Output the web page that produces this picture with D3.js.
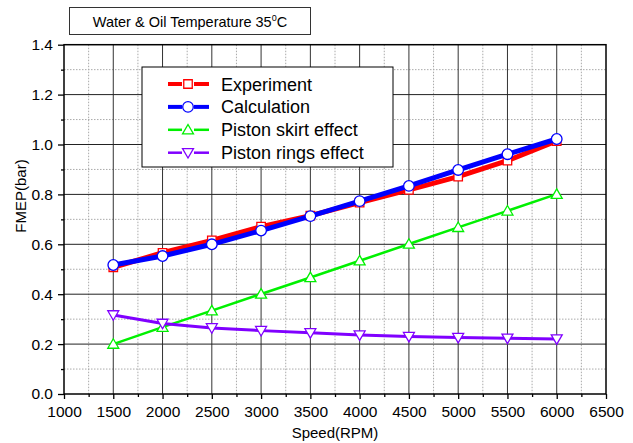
<!DOCTYPE html>
<html>
<head>
<meta charset="utf-8">
<script src="https://cdn.jsdelivr.net/npm/d3@7"></script>
<style>
  body { margin: 0; background: #fff; }
  text { font-family: "Liberation Sans", Arial, sans-serif; fill: #000; }
</style>
</head>
<body>
<div id="chart"></div>
<script>
const width = 633;
const height = 443;

// data
const speeds = [1500, 2000, 2500, 3000, 3500, 4000, 4500, 5000, 5500, 6000];
const experiment = [0.508, 0.566, 0.616, 0.671, 0.715, 0.767, 0.818, 0.871, 0.935, 1.014];
const calculation = [0.517, 0.553, 0.600, 0.655, 0.713, 0.773, 0.834, 0.898, 0.961, 1.022];
const skirtEffect = [0.200, 0.268, 0.334, 0.401, 0.467, 0.534, 0.601, 0.668, 0.734, 0.801];
const ringsEffect = [0.317, 0.283, 0.265, 0.254, 0.245, 0.236, 0.230, 0.226, 0.223, 0.220];
const seriesNames = ["Experiment", "Calculation", "Piston skirt effect", "Piston rings effect"];
const xTicks = [1000, 1500, 2000, 2500, 3000, 3500, 4000, 4500, 5000, 5500, 6000, 6500];
const yTicks = [0.0, 0.2, 0.4, 0.6, 0.8, 1.0, 1.2, 1.4];

const margin = { left: 64, right: 27, top: 44.7, bottom: 49 };

const svg = d3.select("#chart").append("svg")
  .attr("width", width)
  .attr("height", height);

const x = d3.scaleLinear().domain([1000, 6500]).range([margin.left, width - margin.right]);
const y = d3.scaleLinear().domain([0, 1.4]).range([height - margin.bottom, margin.top]);

const plotL = x(1000), plotR = x(6500), plotT = y(1.4), plotB = y(0);

// minor grid (dotted)
const xMinor = d3.range(1250, 6500, 500);
const yMinor = d3.range(0.1, 1.4, 0.2);
svg.append("g").selectAll("line").data(xMinor).enter().append("line")
  .attr("x1", d => x(d)).attr("x2", d => x(d))
  .attr("y1", plotT).attr("y2", plotB)
  .attr("stroke", "#aaa").attr("stroke-dasharray", "1.5,1.5");
svg.append("g").selectAll("line").data(yMinor).enter().append("line")
  .attr("x1", plotL).attr("x2", plotR)
  .attr("y1", d => y(d)).attr("y2", d => y(d))
  .attr("stroke", "#aaa").attr("stroke-dasharray", "1.5,1.5");

// major grid
svg.append("g").selectAll("line").data(xTicks.slice(1, -1)).enter().append("line")
  .attr("x1", d => x(d)).attr("x2", d => x(d))
  .attr("y1", plotT).attr("y2", plotB)
  .attr("stroke", "#333");
svg.append("g").selectAll("line").data(yTicks.slice(1, -1)).enter().append("line")
  .attr("x1", plotL).attr("x2", plotR)
  .attr("y1", d => y(d)).attr("y2", d => y(d))
  .attr("stroke", "#222");

// axes
const xAxis = svg.append("g")
  .attr("transform", "translate(0," + plotB + ")")
  .call(d3.axisBottom(x).tickValues(xTicks).tickSize(5).tickPadding(7).tickFormat(d3.format("d")));
const xAxisMinor = svg.append("g")
  .attr("transform", "translate(0," + plotB + ")")
  .call(d3.axisBottom(x).tickValues(xMinor).tickSize(3).tickFormat(""));
const yAxis = svg.append("g")
  .attr("transform", "translate(" + plotL + ",0)")
  .call(d3.axisLeft(y).tickValues(yTicks).tickSize(6).tickPadding(5).tickFormat(d3.format(".1f")));
const yAxisMinor = svg.append("g")
  .attr("transform", "translate(" + plotL + ",0)")
  .call(d3.axisLeft(y).tickValues(yMinor).tickSize(3).tickFormat(""));

[xAxis, xAxisMinor, yAxis, yAxisMinor].forEach(g => {
  g.select(".domain").remove();
  g.selectAll(".tick line").attr("stroke", "#000").attr("stroke-width", 1.3);
  g.selectAll("text").style("font-size", "15.5px").style("font-family", "Liberation Sans, Arial, sans-serif");
});

// frame
svg.append("rect")
  .attr("x", plotL).attr("y", plotT)
  .attr("width", plotR - plotL).attr("height", plotB - plotT)
  .attr("fill", "none").attr("stroke", "#000").attr("stroke-width", 1.5);

// axis titles
svg.append("text")
  .attr("x", (plotL + plotR) / 2).attr("y", 438)
  .attr("text-anchor", "middle").style("font-size", "15px")
  .text("Speed(RPM)");
svg.append("text")
  .attr("transform", "translate(26,196) rotate(-90)")
  .attr("text-anchor", "middle").style("font-size", "15px")
  .text("FMEP(bar)");

// title box
svg.append("rect")
  .attr("x", 69.5).attr("y", 7.5).attr("width", 241).attr("height", 27)
  .attr("fill", "#fff").attr("stroke", "#333");
const t = svg.append("text")
  .attr("x", 190).attr("y", 27)
  .attr("text-anchor", "middle").style("font-size", "14.5px");
t.append("tspan").text("Water & Oil Temperature 35");
t.append("tspan").attr("dy", -6).style("font-size", "9px").text("0");
t.append("tspan").attr("dy", 6).text("C");

// series
const series = [
  { name: seriesNames[0], values: experiment, color: "#ff0000", width: 5, shape: "square" },
  { name: seriesNames[1], values: calculation, color: "#0000ff", width: 5, shape: "circle" },
  { name: seriesNames[2], values: skirtEffect, color: "#00f000", width: 2.5, shape: "up" },
  { name: seriesNames[3], values: ringsEffect, color: "#8000ff", width: 3, shape: "down" }
];

const symbolFor = {
  square: d3.symbol().type(d3.symbolSquare).size(72),
  circle: d3.symbol().type(d3.symbolCircle).size(88),
  up: d3.symbol().type(d3.symbolTriangle).size(52),
  down: d3.symbol().type(d3.symbolTriangle).size(52)
};
function markerTransform(shape, cx, cy) {
  if (shape === "up") return "translate(" + cx + "," + (cy + 1) + ")";
  if (shape === "down") return "translate(" + cx + "," + (cy - 1) + ") rotate(180)";
  return "translate(" + cx + "," + cy + ")";
}

const line = d3.line().x((d, i) => x(speeds[i])).y(d => y(d));

series.forEach(s => {
  svg.append("path")
    .datum(s.values)
    .attr("d", line)
    .attr("fill", "none")
    .attr("stroke", s.color)
    .attr("stroke-width", s.width);
  svg.append("g").selectAll("path").data(s.values).enter().append("path")
    .attr("d", symbolFor[s.shape])
    .attr("transform", (d, i) => markerTransform(s.shape, x(speeds[i]), y(d)))
    .attr("fill", "#fff")
    .attr("stroke", s.color)
    .attr("stroke-width", 1.3);
});

// legend
const legend = svg.append("g");
legend.append("rect")
  .attr("x", 142).attr("y", 67).attr("width", 251).attr("height", 100)
  .attr("fill", "#fff").attr("stroke", "#000").attr("stroke-width", 1);
series.forEach((s, i) => {
  const cy = 84 + i * 22.9;
  const lw = i < 2 ? 4 : 2.5;
  legend.append("line").attr("x1", 168).attr("x2", 182).attr("y1", cy).attr("y2", cy)
    .attr("stroke", s.color).attr("stroke-width", lw);
  legend.append("line").attr("x1", 194).attr("x2", 209).attr("y1", cy).attr("y2", cy)
    .attr("stroke", s.color).attr("stroke-width", lw);
  legend.append("path")
    .attr("d", symbolFor[s.shape])
    .attr("transform", markerTransform(s.shape, 188, cy))
    .attr("fill", "#fff").attr("stroke", s.color).attr("stroke-width", 1.3);
  legend.append("text")
    .attr("x", 221).attr("y", cy + 6.5)
    .style("font-size", "18px")
    .text(s.name);
});
</script>
</body>
</html>
